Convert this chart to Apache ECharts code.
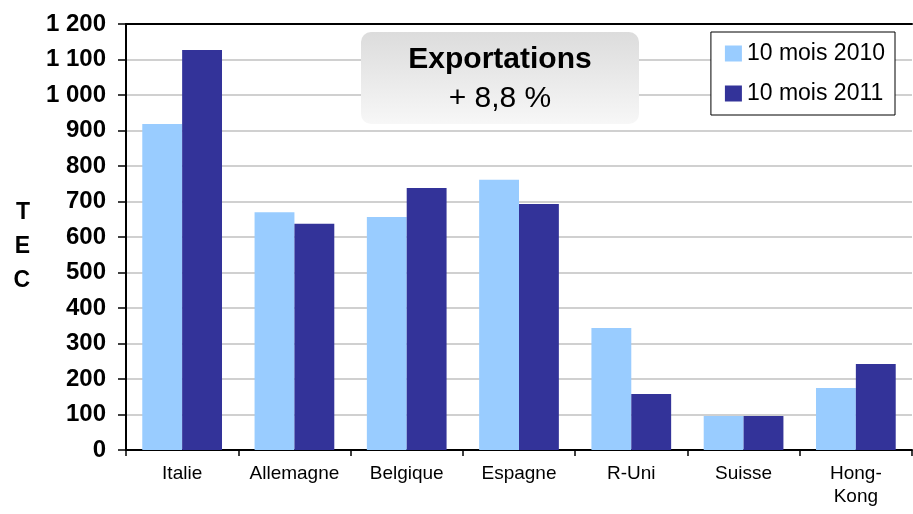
<!DOCTYPE html>
<html><head><meta charset="utf-8">
<script src="https://cdn.jsdelivr.net/npm/echarts@6/dist/echarts.min.js"></script>
<style>html,body{margin:0;padding:0;background:#fff}#c{width:913px;height:514px}</style>
</head><body><div id="c"></div>
<script>
const categories = ['Italie','Allemagne','Belgique','Espagne','R-Uni','Suisse','Hong-\nKong'];
const s2010 = [918, 670, 656, 761, 344, 96, 175];
const s2011 = [1127, 637, 738, 693, 158, 96, 242];
const seriesNames = ['10 mois 2010','10 mois 2011'];
const titleLines = ['Exportations','+ 8,8 %'];
const yTicks = {min:0, max:1200, interval:100};

const chart = echarts.init(document.getElementById('c'), null, {renderer:'canvas'});
const F = '"Liberation Sans", Arial, sans-serif';
chart.setOption({
  animation:false,
  grid:{left:126, right:1, top:24, bottom:64},
  legend:{
    orient:'vertical', right:18, top:32,
    data:seriesNames, icon:'rect', itemWidth:17, itemHeight:16, itemGap:17,
    backgroundColor:'#fff', borderColor:'#000', borderWidth:1, borderRadius:0,
    padding:[10,10,10,14],
    textStyle:{fontFamily:F, fontSize:23, color:'#000'}
  },
  xAxis:[{
    type:'category', data:categories,
    axisLine:{lineStyle:{color:'#000', width:2}},
    axisTick:{show:true, length:6, alignWithLabel:false, lineStyle:{color:'#000', width:1.5}},
    axisLabel:{fontFamily:F, fontSize:19, color:'#000', margin:12, lineHeight:23, interval:0}
  },{
    type:'category', data:categories, position:'top',
    axisLine:{show:true, lineStyle:{color:'#000', width:2}},
    axisTick:{show:false}, axisLabel:{show:false}
  }],
  yAxis:{
    type:'value', min:yTicks.min, max:yTicks.max, interval:yTicks.interval,
    name:'{s| }\nT\nE\nC', nameLocation:'middle', nameRotate:0, nameGap:96,
    nameTextStyle:{fontFamily:F, fontSize:23, fontWeight:'bold', color:'#000', lineHeight:34,
      rich:{s:{fontSize:10, lineHeight:20}}},
    axisLine:{show:true, lineStyle:{color:'#000', width:2}},
    axisTick:{show:true, inside:false, length:8, lineStyle:{color:'#000', width:1.5}},
    axisLabel:{fontFamily:F, fontSize:24, fontWeight:'bold', color:'#000', margin:20,
      formatter:v=>{const s=String(v);return s.length>3? s.slice(0,s.length-3)+' '+s.slice(-3):s;}},
    splitLine:{lineStyle:{color:'#c0c0c0', width:1.5}}
  },
  series:[
    {name:seriesNames[0], type:'bar', data:s2010, itemStyle:{color:'#99ccff'}, barGap:'0%', barCategoryGap:'29%'},
    {name:seriesNames[1], type:'bar', data:s2011, itemStyle:{color:'#333399'}, barGap:'0%', barCategoryGap:'29%'}
  ],
  graphic:[{
    type:'group', left:361, top:32, z:100,
    children:[
      {type:'rect', z:100, shape:{x:0,y:0,width:278,height:92,r:10},
       style:{fill:new echarts.graphic.LinearGradient(0,0,0,1,[{offset:0,color:'#dcdcdc'},{offset:1,color:'#f7f7f7'}])}},
      {type:'text', z:101, x:139, y:28, style:{text:titleLines[0], font:'bold 30px '+F, fill:'#000', align:'center', verticalAlign:'middle'}},
      {type:'text', z:101, x:139, y:67, style:{text:titleLines[1], font:'30px '+F, fill:'#000', align:'center', verticalAlign:'middle'}}
    ]
  }]
});
</script></body></html>
